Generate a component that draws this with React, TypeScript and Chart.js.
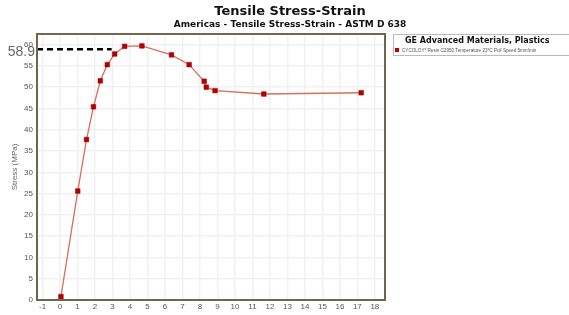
import React, { useEffect, useRef } from "react";
import { Chart, registerables } from "chart.js";

Chart.register(...registerables);

const strainValues = [0.05, 1.01, 1.51, 1.91, 2.3, 2.7, 3.12, 3.69, 4.68, 6.37, 7.38, 8.24, 8.36, 8.86, 11.65, 17.22];
const stressValues = [0.8, 25.6, 37.7, 45.4, 51.5, 55.3, 57.8, 59.6, 59.7, 57.6, 55.3, 51.4, 50.0, 49.2, 48.4, 48.7];
const markerStrain = [-1.32, 2.95];
const markerStress = [58.9, 58.9];
const markerLabel = "58.9";
const chartTitle = "Tensile Stress-Strain";
const chartSubtitle = "Americas - Tensile Stress-Strain - ASTM D 638";
const legendTitle = "GE Advanced Materials, Plastics";
const seriesLabel = "CYCOLOY* Resin C2950 Temperature 23°C Pull Speed 5mm/min";
const yAxisTitle = "Stress (MPa)";

const textPlugin = {
  id: "textPlugin",
  afterDraw(chart: any) {
    const ctx = chart.ctx;
    const area = chart.chartArea;
    const yScale = chart.scales.y;
    ctx.save();
    // frame
    ctx.strokeStyle = "#6f6650";
    ctx.lineWidth = 2;
    ctx.strokeRect(area.left, area.top, area.right - area.left, area.bottom - area.top);
    // titles
    ctx.fillStyle = "#111";
    ctx.textAlign = "center";
    ctx.textBaseline = "middle";
    ctx.font = "bold 13px 'DejaVu Sans'";
    ctx.fillText(chartTitle, 290, 12);
    ctx.font = "bold 9px 'DejaVu Sans'";
    ctx.fillText(chartSubtitle, 290, 25);
    // marker label
    ctx.font = "14px 'Liberation Sans'";
    ctx.fillStyle = "#666";
    ctx.textAlign = "right";
    ctx.fillText(markerLabel, 35, yScale.getPixelForValue(markerStress[0]) + 3);
    // legend box
    const lx = 393, ly = 34, lw = 190, lh = 21;
    ctx.fillStyle = "#fff";
    ctx.fillRect(lx, ly, lw, lh);
    ctx.strokeStyle = "#bbb";
    ctx.lineWidth = 1;
    ctx.strokeRect(lx + 0.5, ly + 0.5, lw, lh);
    ctx.fillStyle = "#111";
    ctx.textAlign = "left";
    ctx.font = "bold 8px 'DejaVu Sans'";
    ctx.fillText(legendTitle, 405, 41);
    ctx.fillStyle = "#c00000";
    ctx.fillRect(395, 48, 4, 4);
    ctx.fillStyle = "#555";
    ctx.font = "4.6px 'Liberation Sans'";
    ctx.fillText(seriesLabel, 402, 50.5);
    ctx.restore();
  },
};

export default function App() {
  const canvasRef = useRef<HTMLCanvasElement | null>(null);

  useEffect(() => {
    const canvas = canvasRef.current;
    if (!canvas) return;
    const chart = new Chart(canvas, {
      type: "line",
      data: {
        datasets: [
          {
            label: seriesLabel,
            data: strainValues.map((x, i) => ({ x, y: stressValues[i] })),
            borderColor: "#d5705a",
            borderWidth: 1.3,
            pointStyle: "rect",
            pointRadius: 3.3,
            pointBackgroundColor: "#b30000",
            pointBorderColor: "#a00000",
            pointBorderWidth: 0.5,
            tension: 0,
          },
          {
            label: "marker",
            data: markerStrain.map((x, i) => ({ x, y: markerStress[i] })),
            borderColor: "#000",
            borderWidth: 2.5,
            borderDash: [6, 4],
            pointRadius: 0,
            clip: false as any,
          },
        ],
      },
      options: {
        responsive: false,
        animation: false,
        devicePixelRatio: 1,
        layout: { padding: { top: 34, right: 184, left: 0, bottom: 0 } },
        plugins: {
          legend: { display: false },
          title: { display: false },
          tooltip: { enabled: false },
        },
        scales: {
          x: {
            type: "linear",
            min: -1.32,
            max: 18.58,
            afterFit: (s: any) => {
              s.height = 15;
            },
            ticks: {
              stepSize: 1,
              includeBounds: false,
              padding: 2,
              color: "#555",
              font: { family: "'Liberation Sans'", size: 8 },
              maxRotation: 0,
              autoSkip: false,
            },
            grid: { color: "#f1f1f1", lineWidth: 1.5, drawTicks: false },
            border: { display: false },
          },
          y: {
            type: "linear",
            min: 0,
            max: 62.5,
            afterFit: (s: any) => {
              s.width = 37;
            },
            ticks: {
              stepSize: 5,
              includeBounds: false,
              padding: 4,
              color: "#555",
              font: { family: "'Liberation Sans'", size: 8 },
            },
            grid: { color: "#f1f1f1", lineWidth: 1.5, drawTicks: false },
            border: { display: false },
            title: {
              display: true,
              text: yAxisTitle,
              color: "#666",
              font: { family: "'Liberation Sans'", size: 8 },
              padding: { top: 10, bottom: 0 },
            },
          },
        },
      },
      plugins: [textPlugin],
    });
    return () => chart.destroy();
  }, []);

  return (
    <div style={{ position: "absolute", left: 0, top: 0, width: 569, height: 315, background: "#fff" }}>
      <canvas ref={canvasRef} width={569} height={315} />
    </div>
  );
}
